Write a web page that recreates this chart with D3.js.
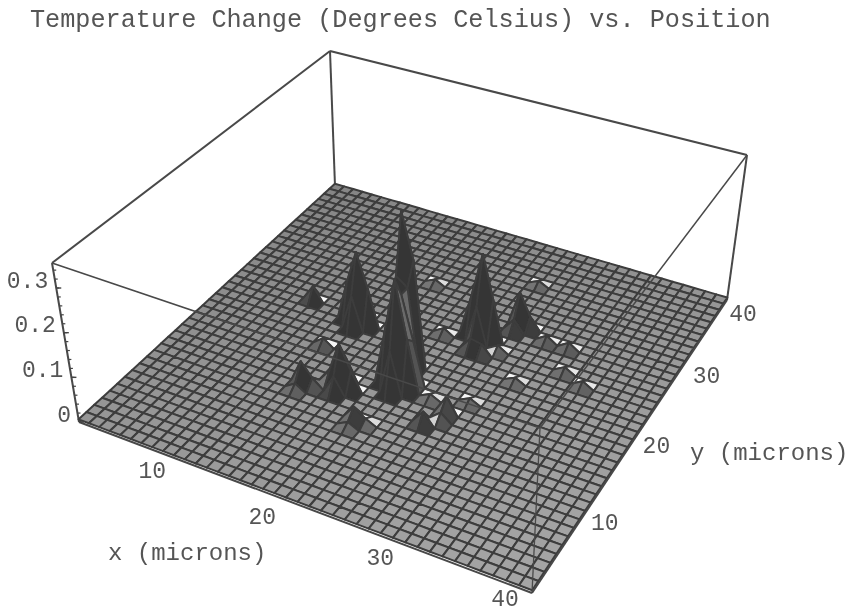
<!DOCTYPE html>
<html lang="en">
<head>
<meta charset="UTF-8">
<title>Temperature Change vs. Position</title>
<script src="https://d3js.org/d3.v7.min.js"></script>
<style>
  html, body { margin: 0; background: #fff; }
  text { font-family: "Liberation Mono", monospace; fill: #555; }
</style>
</head>
<body>
<svg id="main" width="855" height="613"></svg>
<script>
// grid samples, 1..40 microns on both axes
const gridX = d3.range(1, 41)
const gridY = d3.range(1, 41)

// heights are zero except at these samples
const spikeX = [20, 21, 21, 20, 22, 21, 21, 20, 20, 21, 22,
  14, 13, 15, 14, 14,
  24, 23, 25, 24, 24, 24, 25,
  26, 26, 27,
  9, 14, 15, 14, 17, 18, 17, 16, 17, 20, 21, 20, 25, 26, 26,
  29, 31, 32, 34, 21, 13, 17, 25, 26, 29, 24, 27]
const spikeY = [19, 19, 16, 16, 16, 15, 17, 17, 18, 18, 17,
  22, 22, 22, 21, 23,
  25, 25, 25, 24, 26, 23, 23,
  28, 27, 28,
  23, 13, 13, 12, 14, 14, 15, 14, 13, 11, 11, 10, 13, 15, 14,
  27, 27, 24, 23, 24, 18, 30, 34, 24, 21, 16, 17]
const spikeZ = [0.356, 0.25, 0.25, 0.12, 0.12, 0.1, 0.2, 0.16, 0.22, 0.2, 0.1,
  0.17, 0.09, 0.09, 0.08, 0.07,
  0.2, 0.09, 0.1, 0.09, 0.08, 0.03, 0.025,
  0.08, 0.03, 0.03,
  0.035, 0.05, 0.02, 0.015, 0.1, 0.045, 0.05, 0.03, 0.04, 0.03, 0.012, 0.012, 0.03, 0.04, 0.02,
  0.016, 0.016, 0.014, 0.014, 0.015, 0.018, 0.012, 0.012, 0.015, 0.012, 0.012, 0.012]

const xTicks = [10, 20, 30, 40]
const yTicks = [10, 20, 30, 40]
const zTicks = [0, 0.1, 0.2, 0.3]
const zMinor = d3.range(0, 0.35, 0.02)
const zMax = 0.356

// label nudges from the box edge, in pixels
const xNudge = [[-22, 14], [-24, 18], [-25, 14], [-27, 7]]
const yNudge = [[20, 10], [19, 12], [22, 13], [16, 15]]

const svg = d3.select("#main")
const defs = svg.append("defs")
defs.append("filter").attr("id", "scan").append("feGaussianBlur").attr("stdDeviation", 0.45)
const g = svg.append("g").attr("filter", "url(#scan)")

// box corners on screen: [x=1,y=1], [x=40,y=1], [x=40,y=40], [x=1,y=40]
const floorQuad = [[79, 422], [532, 593], [727, 300], [335, 186]]
const topQuad = [[52, 263], [540, 428], [747, 155], [330, 51]]

const sx = d3.scaleLinear().domain([1, 40]).range([0, 1])
const sy = d3.scaleLinear().domain([1, 40]).range([0, 1])
const sz = d3.scaleLinear().domain([0, zMax]).range([0, 1])

function homography(q) {
  const [p00, p10, p11, p01] = q
  const dx1 = p10[0] - p11[0], dx2 = p01[0] - p11[0], ex = p00[0] - p10[0] + p11[0] - p01[0]
  const dy1 = p10[1] - p11[1], dy2 = p01[1] - p11[1], ey = p00[1] - p10[1] + p11[1] - p01[1]
  const den = dx1 * dy2 - dx2 * dy1
  const a = (ex * dy2 - dx2 * ey) / den
  const b = (dx1 * ey - ex * dy1) / den
  return (u, v) => {
    const w = 1 + a * u + b * v
    return [
      ((p10[0] - p00[0] + a * p10[0]) * u + (p01[0] - p00[0] + b * p01[0]) * v + p00[0]) / w,
      ((p10[1] - p00[1] + a * p10[1]) * u + (p01[1] - p00[1] + b * p01[1]) * v + p00[1]) / w
    ]
  }
}
const floorH = homography(floorQuad), topH = homography(topQuad)

function project(x, y, z) {
  const a = floorH(sx(x), sy(y)), b = topH(sx(x), sy(y)), t = sz(z)
  return [a[0] + (b[0] - a[0]) * t, a[1] + (b[1] - a[1]) * t]
}

const spikes = new Map(spikeX.map((x, i) => [x + "," + spikeY[i], spikeZ[i]]))
const height = (x, y) => spikes.get(x + "," + y) || 0
const lift = 0.006 // surface sits just above the box floor

// cells, back corner first so nearer ones paint over
const cells = []
gridX.slice(0, -1).forEach(x => gridY.slice(0, -1).forEach(y => cells.push({ x, y })))
cells.sort((a, b) => (a.x - a.y) - (b.x - b.y))

const light = [-0.2, 0.9, 0.4]
const shade = d3.scaleLinear().domain([-0.25, 0.4, 0.58]).range(["#353535", "#8c8c8c", "#f6f6f6"]).clamp(true)
const floorTone = d3.scaleLinear().domain([-39, 39]).range(["#858585", "#a6a6a6"])

function cellFill(d) {
  const k = 40
  const h00 = height(d.x, d.y), h10 = height(d.x + 1, d.y), h11 = height(d.x + 1, d.y + 1), h01 = height(d.x, d.y + 1)
  if (h00 + h10 + h11 + h01 === 0) return floorTone(d.x - d.y)
  // normal from the two diagonals
  const p = [1, 1, (h11 - h00) * k], q = [-1, 1, (h01 - h10) * k]
  const n = [p[1] * q[2] - p[2] * q[1], p[2] * q[0] - p[0] * q[2], p[0] * q[1] - p[1] * q[0]]
  const len = Math.hypot(n[0], n[1], n[2])
  return shade((n[0] * light[0] + n[1] * light[1] + n[2] * light[2]) / len)
}

const line = d3.line()
function boxLine(a, b, w) {
  g.append("path").attr("d", line([a, b])).attr("fill", "none").attr("stroke", "#484848").attr("stroke-width", w || 2)
}

// back edges of the box
boxLine(topQuad[0], topQuad[3])
boxLine(topQuad[3], topQuad[2])
boxLine(topQuad[3], floorQuad[3])
boxLine(topQuad[2], floorQuad[2])
boxLine(topQuad[0], floorQuad[0])
boxLine(floorQuad[0], floorQuad[3])
boxLine(floorQuad[3], floorQuad[2])

g.append("g").selectAll("path").data(cells).join("path")
  .attr("d", d => line([
    project(d.x, d.y, height(d.x, d.y) + lift),
    project(d.x + 1, d.y, height(d.x + 1, d.y) + lift),
    project(d.x + 1, d.y + 1, height(d.x + 1, d.y + 1) + lift),
    project(d.x, d.y + 1, height(d.x, d.y + 1) + lift)
  ]) + "Z")
  .attr("fill", cellFill)
  .attr("stroke", "#3c3c3c")
  .attr("stroke-width", 2)
  .attr("stroke-linejoin", "round")

// front edges of the box, over the surface
boxLine(floorQuad[0], floorQuad[1])
boxLine(floorQuad[1], floorQuad[2])
boxLine(floorQuad[1], topQuad[1], 1.3)
boxLine(topQuad[0], topQuad[1], 1.5)
boxLine(topQuad[1], topQuad[2], 1.5)

// z ticks on the left vertical edge
g.append("g").selectAll("path").data(zMinor).join("path")
  .attr("d", z => {
    const p = project(1, 1, z)
    return line([p, [p[0] + 3, p[1]]])
  })
  .attr("stroke", "#444").attr("stroke-width", 1.2)
g.append("g").selectAll("path").data(zTicks).join("path")
  .attr("d", z => {
    const p = project(1, 1, z)
    return line([p, [p[0] + 5, p[1]]])
  })
  .attr("stroke", "#444").attr("stroke-width", 1.4)

function labels(data, pos, size, anchor) {
  g.append("g").selectAll("text").data(data).join("text")
    .attr("x", (d, i) => pos(d, i)[0]).attr("y", (d, i) => pos(d, i)[1])
    .attr("font-size", size)
    .attr("text-anchor", anchor)
    .attr("dominant-baseline", "central")
    .text(d => d)
}

labels(xTicks, (d, i) => { const p = project(d, 1, 0); return [p[0] + xNudge[i][0], p[1] + xNudge[i][1]] }, 23, "middle")
labels(yTicks, (d, i) => { const p = project(40, d, 0); return [p[0] + yNudge[i][0], p[1] + yNudge[i][1]] }, 23, "middle")
labels(zTicks, d => { const p = project(1, 1, d); return [p[0] - 8, p[1] - 6.5] }, 23, "end")

svg.append("text").attr("x", 30).attr("y", 20).attr("font-size", 25.2).attr("dominant-baseline", "central")
  .attr("filter", "url(#scan)").text("Temperature Change (Degrees Celsius) vs. Position")
svg.append("text").attr("x", 108).attr("y", 553).attr("font-size", 24).attr("dominant-baseline", "central")
  .attr("filter", "url(#scan)").text("x (microns)")
svg.append("text").attr("x", 690).attr("y", 453).attr("font-size", 24).attr("dominant-baseline", "central")
  .attr("filter", "url(#scan)").text("y (microns)")
</script>
</body>
</html>
